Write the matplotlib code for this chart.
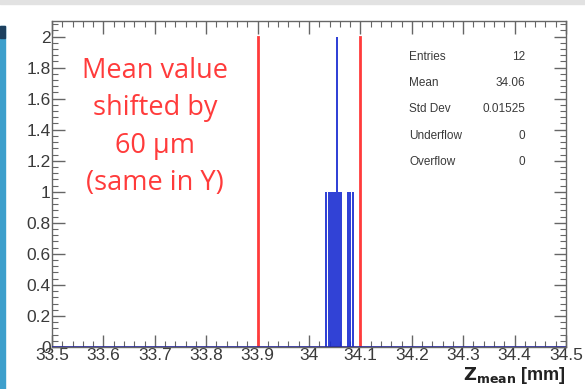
import matplotlib
matplotlib.use("Agg")
import matplotlib.pyplot as plt
from matplotlib.ticker import MultipleLocator, FixedLocator
from matplotlib.patches import Rectangle

# ── Data ──────────────────────────────────────────────────────────────────────
bin_centers = [34.034, 34.038, 34.042, 34.046, 34.050, 34.054,
               34.058, 34.062, 34.076, 34.080, 34.085]
bin_counts  = [1, 1, 1, 1, 1, 2, 1, 1, 1, 1, 1]
ref_lines   = [33.9, 34.1]
ref_height  = 2.0

x_ticks  = [33.5, 33.6, 33.7, 33.8, 33.9, 34.0, 34.1, 34.2, 34.3, 34.4, 34.5]
x_labels = ["33.5", "33.6", "33.7", "33.8", "33.9", "34", "34.1", "34.2",
            "34.3", "34.4", "34.5"]
y_ticks  = [0, 0.2, 0.4, 0.6, 0.8, 1, 1.2, 1.4, 1.6, 1.8, 2]
y_labels = ["0", "0.2", "0.4", "0.6", "0.8", "1", "1.2", "1.4", "1.6", "1.8", "2"]

stats_names  = ["Entries", "Mean", "Std Dev", "Underflow", "Overflow"]
stats_values = ["12", "34.06", "0.01525", "0", "0"]

BLUE = "#1a2dd2"
RED  = "#ff3b3b"
GREY = "#3a3a3a"

# ── Figure ────────────────────────────────────────────────────────────────────
W, H = 585, 389
fig = plt.figure(figsize=(W / 100, H / 100), dpi=100)
ax = fig.add_axes([52 / W, 42 / H, 514 / W, 326 / H])

# slide background bits around the canvas
fig.patches.append(Rectangle((0, 1 - 4 / H), 1, 4 / H, transform=fig.transFigure,
                             color="#e2e2e2", zorder=0))
fig.patches.append(Rectangle((0, 0), 5 / W, 1 - 26 / H, transform=fig.transFigure,
                             color="#3d9fcc", zorder=0))
fig.patches.append(Rectangle((0, 1 - 38 / H), 5 / W, 12 / H, transform=fig.transFigure,
                             color="#1c3f5e", zorder=0))

ax.bar(bin_centers, bin_counts, width=0.0038, color=BLUE, alpha=0.9,
       linewidth=0, zorder=2)
for x in ref_lines:
    ax.plot([x, x], [0, ref_height], color=RED, lw=2, zorder=3)
ax.axhline(0, color="#2a2a9a", lw=1.2, zorder=4)

ax.set_xlim(33.5, 34.5)
ax.set_ylim(0, 2.1)
ax.xaxis.set_major_locator(FixedLocator(x_ticks))
ax.set_xticklabels(x_labels)
ax.xaxis.set_minor_locator(MultipleLocator(0.02))
ax.yaxis.set_major_locator(FixedLocator(y_ticks))
ax.set_yticklabels(y_labels)
ax.yaxis.set_minor_locator(MultipleLocator(0.04))

ax.tick_params(which="both", direction="in", top=True, right=True,
               colors="#666666", labelcolor=GREY, labelsize=12.5)
ax.tick_params(which="major", length=9, width=1)
ax.tick_params(which="minor", length=4.5, width=0.8)
ax.tick_params(axis="x", pad=1)
ax.tick_params(axis="y", pad=1)
for lbl in ax.get_xticklabels() + ax.get_yticklabels():
    lbl.set_fontfamily("Liberation Sans")
for s in ax.spines.values():
    s.set_color("#666666")
    s.set_linewidth(1)

ax.set_xlabel(r"$\mathbf{Z_{mean}}$ [mm]", fontsize=13, fontweight="bold",
              family="Liberation Sans", color="#222222", loc="right", labelpad=1)

ax.text(0.2, 0.675, "Mean value\nshifted by\n60 µm\n(same in Y)", transform=ax.transAxes,
        ha="center", va="center", color=RED, fontsize=19.5, family="Open Sans",
        linespacing=1.44)

for i, (name, val) in enumerate(zip(stats_names, stats_values)):
    y = 0.89 - i * 0.0805
    ax.text(0.695, y, name, transform=ax.transAxes, fontsize=8.5, color=GREY,
            family="Liberation Sans", va="center", ha="left")
    ax.text(0.92, y, val, transform=ax.transAxes, fontsize=8.5, color=GREY,
            family="Liberation Sans", va="center", ha="right")

fig.savefig("out.png", dpi=100)
